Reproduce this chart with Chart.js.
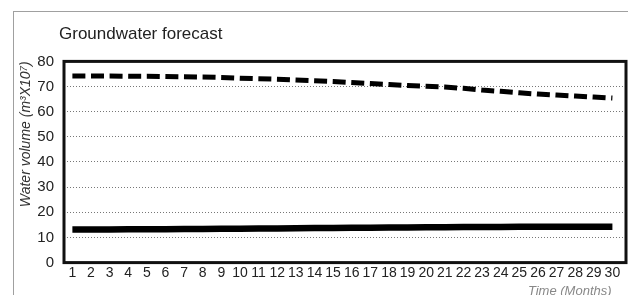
<!DOCTYPE html>
<html>
<head>
<meta charset="utf-8">
<script src="https://cdn.jsdelivr.net/npm/chart.js@4.4.1/dist/chart.umd.min.js"></script>
<style>
  body { margin: 0; background: #fff; }
  #wrap { position: relative; width: 628px; height: 295px; overflow: hidden; }
  #frame { position: absolute; left: 13px; top: 11px; right: 0; bottom: 0; border-top: 1px solid #a0a0a0; border-left: 1px solid #a0a0a0; }
  canvas { position: absolute; left: 0; top: 0; }
</style>
</head>
<body>
<div id="wrap">
  <div id="frame"></div>
  <canvas id="chart" width="628" height="295"></canvas>
</div>
<script>
// months 1..30
const months = [1, 2, 3, 4, 5, 6, 7, 8, 9, 10, 11, 12, 13, 14, 15,
  16, 17, 18, 19, 20, 21, 22, 23, 24, 25, 26, 27, 28, 29, 30]

// upper (dashed) series
const upperVolume = [74.2, 74.2, 74.2, 74.1, 74.1, 74.0, 73.9, 73.8, 73.6, 73.3,
  73.1, 72.9, 72.6, 72.3, 72.0, 71.6, 71.2, 70.8, 70.4, 70.1,
  69.8, 69.3, 68.6, 68.1, 67.5, 67.0, 66.6, 66.2, 65.8, 65.4]

// lower (solid) series
const lowerVolume = [13.2, 13.2, 13.2, 13.3, 13.3, 13.3, 13.4, 13.4, 13.5, 13.5,
  13.6, 13.6, 13.7, 13.8, 13.8, 13.9, 13.9, 14.0, 14.0, 14.1,
  14.1, 14.2, 14.2, 14.2, 14.3, 14.3, 14.3, 14.3, 14.3, 14.3]

const yTicks = [0, 10, 20, 30, 40, 50, 60, 70, 80]

Chart.defaults.font.family = "'Liberation Sans', Arial, sans-serif"
Chart.defaults.color = "#222"

// black box round the plot area, title pulled a little left of it
const frame = {
  id: "frame",
  afterLayout(chart) {
    if (chart.titleBlock) chart.titleBlock.left = chart.chartArea.left - 5
  },
  afterDatasetsDraw(chart) {
    const { ctx, chartArea: a } = chart
    ctx.save()
    ctx.strokeStyle = "#111"
    ctx.lineWidth = 3
    ctx.strokeRect(a.left, a.top, a.right - a.left, a.bottom - a.top)
    ctx.restore()
  }
}

const toPoints = vals => vals.map((v, i) => ({ x: months[i], y: v }))

new Chart(document.getElementById("chart"), {
  type: "line",
  data: {
    datasets: [
      {
        data: toPoints(upperVolume),
        borderColor: "#000",
        borderWidth: 5,
        borderDash: [13, 5.6],
        borderCapStyle: "butt",
        pointRadius: 0,
        tension: 0
      },
      {
        data: toPoints(lowerVolume),
        borderColor: "#000",
        borderWidth: 6.5,
        borderCapStyle: "butt",
        pointRadius: 0,
        tension: 0
      }
    ]
  },
  options: {
    responsive: false,
    animation: false,
    layout: { padding: { left: 18, right: 2, top: 0, bottom: -4 } },
    plugins: {
      legend: { display: false },
      tooltip: { enabled: false },
      title: {
        display: true,
        text: "Groundwater forecast",
        align: "start",
        fullSize: false,
        color: "#222",
        font: { size: 17, weight: "normal" },
        padding: { top: 24, bottom: 17 }
      }
    },
    scales: {
      x: {
        type: "linear",
        min: 0.55,
        max: 30.73,
        afterBuildTicks: axis => { axis.ticks = months.map(v => ({ value: v })) },
        grid: { display: false, drawTicks: false },
        border: { display: false },
        ticks: {
          autoSkip: false,
          maxRotation: 0,
          padding: 2,
          font: { size: 14 },
          color: "#222"
        },
        title: {
          display: true,
          text: "Time (Months)    ",
          align: "end",
          color: "#888",
          font: { size: 13, style: "italic" },
          padding: { top: 0, bottom: 0 }
        }
      },
      y: {
        min: 0,
        max: 80,
        afterBuildTicks: axis => { axis.ticks = yTicks.map(v => ({ value: v })) },
        afterFit: axis => { axis.width = 46 },
        grid: { color: "#777", lineWidth: 1, drawTicks: false },
        border: { display: false, dash: [1, 2] },
        ticks: {
          padding: 10,
          font: { size: 15 },
          color: "#222"
        },
        title: {
          display: true,
          text: "Water volume (m³X10⁷)",
          align: "end",
          color: "#333",
          font: { size: 14, style: "italic" },
          padding: { top: 0, bottom: 4 }
        }
      }
    }
  },
  plugins: [frame]
})
</script>
</body>
</html>
